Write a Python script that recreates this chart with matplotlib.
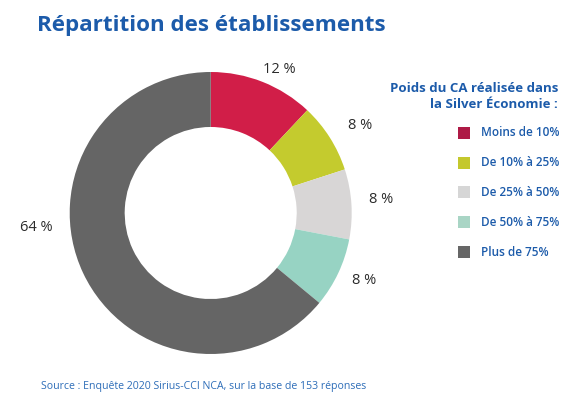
import matplotlib
matplotlib.use("Agg")
import matplotlib.pyplot as plt
from matplotlib.patches import Rectangle
import numpy as np

categories = ["Moins de 10%", "De 10% à 25%", "De 25% à 50%", "De 50% à 75%", "Plus de 75%"]
values = [12, 8, 8, 8, 64]
labels = ["12 %", "8 %", "8 %", "8 %", "64 %"]
colors = ["#D11E48", "#C4CB2E", "#D8D6D6", "#97D3C3", "#656565"]
legend_colors = ["#AE1A46", "#C4C82D", "#D6D6D6", "#A9D5C5", "#666666"]

title = "Répartition des établissements"
legend_title = "Poids du CA réalisée dans\nla Silver Économie :"
source = "Source : Enquête 2020 Sirius-CCI NCA, sur la base de 153 réponses"

W, H = 572, 399
fig = plt.figure(figsize=(W / 100, H / 100), dpi=100)
fig.patch.set_facecolor("white")

def fx(px):
    return px / W

def fy(py):
    return 1 - py / H

# Pie axes spanning whole figure, scaled so 1 unit = R px
cx, cy, R = 210.7, 213.0, 141.0
ax = fig.add_axes([0, 0, 1, 1])
ax.pie(values, colors=colors, startangle=90, counterclock=False,
       wedgeprops=dict(width=0.39, linewidth=0))
ax.set_xlim(-cx / R, (W - cx) / R)
ax.set_ylim(-(H - cy) / R, cy / R)
ax.set_aspect("auto")
ax.axis("off")

# percentage labels
label_font = dict(family="Open Sans", fontsize=10.5, color="#2b2b2b")
cum = np.cumsum([0] + values[:-1])
dists = [1.13, 1.23, 1.21, 1.19, None]
angle_shift = [-4, -2, 1, 1.5, 0]
for i, (v, c0) in enumerate(zip(values, cum)):
    mid = 90 - 360 * (c0 + v / 2) / sum(values) + angle_shift[i]
    if dists[i] is None:
        x, y = -1.24, -0.10
    else:
        a = np.deg2rad(mid)
        x, y = dists[i] * np.cos(a), dists[i] * np.sin(a)
    ax.text(x, y, labels[i], ha="center", va="center", **label_font)

blue = "#1C5BAA"
fig.text(fx(37), fy(25), title, ha="left", va="center", fontsize=16.1,
         fontweight="bold", color=blue, family="Open Sans")

fig.text(fx(558), fy(96), legend_title, ha="right", va="center", fontsize=9.5,
         fontweight="bold", color=blue, family="Open Sans", linespacing=1.3)

ys = [133, 163, 192, 222, 252]
for cat, col, y in zip(categories, legend_colors, ys):
    fig.add_artist(Rectangle((fx(458), fy(y + 6)), fx(12), 12 / H,
                             transform=fig.transFigure, facecolor=col,
                             edgecolor="none"))
    fig.text(fx(481), fy(y), cat, ha="left", va="center", fontsize=8.5,
             fontweight="semibold", color=blue, family="Open Sans")

fig.text(fx(41), fy(386), source, ha="left", va="center", fontsize=7.55,
         color="#2D6DB8", family="Open Sans")

fig.savefig("out.png", dpi=100, facecolor="white")
